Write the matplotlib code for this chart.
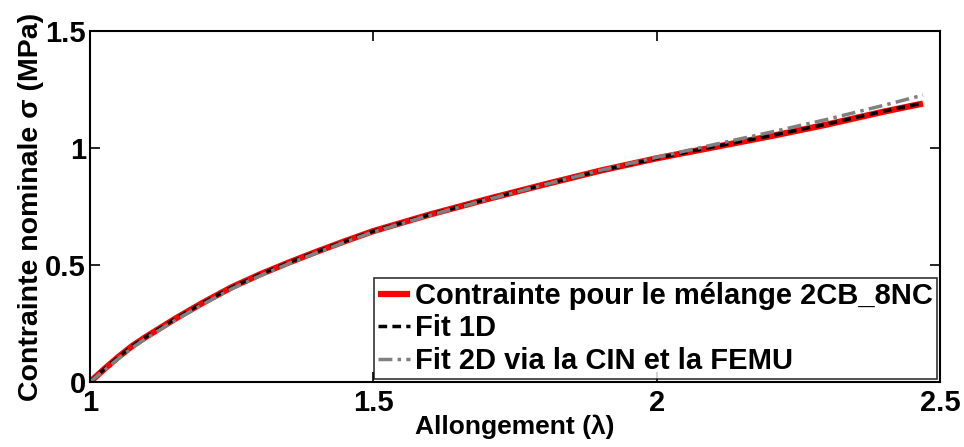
import matplotlib
matplotlib.use("Agg")
import matplotlib.pyplot as plt

plt.rcParams['font.family'] = ['Liberation Sans', 'DejaVu Sans']
plt.rcParams['font.weight'] = 'bold'

lam = [1.0, 1.025, 1.05, 1.075, 1.1, 1.15, 1.2, 1.25, 1.3, 1.35, 1.4, 1.45, 1.5,
       1.6, 1.7, 1.8, 1.9, 2.0, 2.1, 2.2, 2.3, 2.4, 2.47]
sig_exp = [0.0, 0.055, 0.107, 0.155, 0.195, 0.27, 0.34, 0.405, 0.46, 0.51, 0.557, 0.602, 0.645,
           0.716, 0.781, 0.843, 0.903, 0.956, 1.003, 1.05, 1.1, 1.155, 1.19]
sig_fit1d = [0.0, 0.055, 0.107, 0.155, 0.195, 0.27, 0.34, 0.405, 0.46, 0.51, 0.557, 0.602, 0.645,
             0.716, 0.781, 0.843, 0.903, 0.956, 1.005, 1.052, 1.102, 1.157, 1.192]
sig_fit2d = [0.0, 0.05, 0.1, 0.147, 0.188, 0.263, 0.333, 0.398, 0.454, 0.505, 0.552, 0.598, 0.641,
             0.713, 0.779, 0.842, 0.904, 0.96, 1.014, 1.067, 1.122, 1.182, 1.226]

labels = ["Contrainte pour le mélange 2CB_8NC", "Fit 1D", "Fit 2D via la CIN et la FEMU"]
xticks = [1, 1.5, 2, 2.5]
xticklabels = ["1", "1.5", "2", "2.5"]
yticks = [0, 0.5, 1, 1.5]
yticklabels = ["0", "0.5", "1", "1.5"]

fig = plt.figure(figsize=(9.64, 4.47), dpi=100)
ax = fig.add_axes([90/964, 1 - 382/447, 850/964, 351/447])

ax.plot(lam, sig_exp, color='#ff0000', lw=4.5, label=labels[0], solid_capstyle='butt')
ax.plot(lam, sig_fit1d, color='black', lw=2.5, ls=(0, (2.5, 1.5)), label=labels[1])
ax.plot(lam, sig_fit2d, color='#808080', lw=2.5, ls=(0, (4, 1.5, 1, 1.5)), label=labels[2])

ax.set_xlim(1, 2.5)
ax.set_ylim(0, 1.5)
ax.set_xticks(xticks)
ax.set_xticklabels(xticklabels)
ax.set_yticks(yticks)
ax.set_yticklabels(yticklabels)
ax.tick_params(direction='in', length=7, width=1.2, top=True, right=True, labelsize=21)
ax.tick_params(axis='x', pad=5)
ax.tick_params(axis='y', pad=3)
for lab in ax.get_xticklabels() + ax.get_yticklabels():
    lab.set_fontweight('bold')
for s in ax.spines.values():
    s.set_linewidth(1.5)

ax.set_xlabel("Allongement (λ)", fontsize=19, fontweight='bold', labelpad=-2)
ax.set_ylabel("Contrainte nominale σ (MPa)", fontsize=20.5, fontweight='bold', labelpad=1)

leg = ax.legend(loc='lower right', frameon=True, fancybox=False,
                edgecolor='black', handlelength=1.1, handletextpad=0.15,
                borderpad=0.15, labelspacing=0.15, borderaxespad=0.1,
                prop={'weight': 'bold', 'size': 21})
leg.get_frame().set_linewidth(1.2)

fig.savefig("out.png", dpi=100)
